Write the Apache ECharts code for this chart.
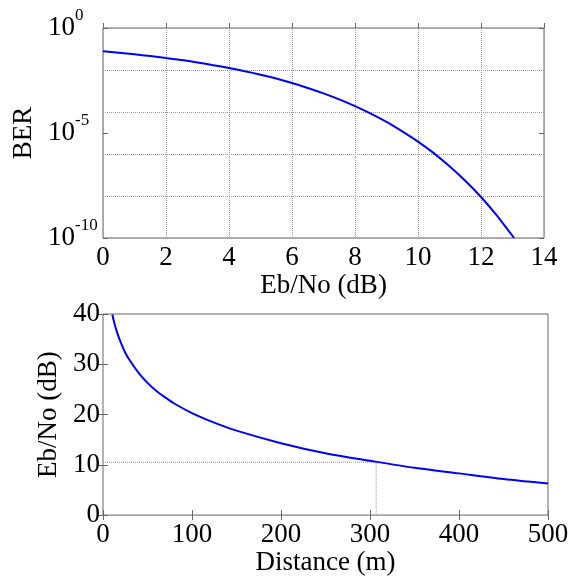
<!DOCTYPE html>
<html>
<head>
<meta charset="utf-8">
<script src="https://cdn.jsdelivr.net/npm/echarts@6/dist/echarts.min.js"></script>
<style>
html, body { margin: 0; padding: 0; background: #fff; }
#main { width: 580px; height: 577px; }
</style>
</head>
<body>
<div id="main"></div>
<script>
// top plot: BER vs Eb/No
var ebno = [0, 0.5, 1, 1.5, 2, 2.5, 3, 3.5, 4, 4.5, 5, 5.5, 6, 6.5, 7, 7.5, 8, 8.5, 9, 9.5, 10, 10.5, 11, 11.5, 12, 12.5, 13.05];
var ber = [0.079, 0.067, 0.056, 0.046, 0.037, 0.030, 0.023, 0.017, 0.0125, 0.0088, 0.0060, 0.0039, 0.0024, 0.0014,
  7.7e-4, 4.0e-4, 1.9e-4, 8.4e-5, 3.4e-5, 1.2e-5, 3.9e-6, 1.1e-6, 2.6e-7, 5.3e-8, 9.0e-9, 1.2e-9, 1.0e-10];

// bottom plot: Eb/No vs distance
var dist = [10.5, 12, 15, 20, 25, 30, 40, 50, 60, 70, 80, 100, 125, 150, 200, 250, 300, 350, 400, 450, 500];
var ebnoDist = [39.9, 38.7, 36.8, 34.3, 32.3, 30.8, 28.3, 26.3, 24.7, 23.4, 22.2, 20.3, 18.4, 16.8, 14.3, 12.3, 10.8, 9.4, 8.3, 7.2, 6.3];

// dotted guide at the operating point
var guideDist = [0, 307, 307];
var guideEbno = [10.5, 10.5, 0];

var font = 'Liberation Serif';
var boxColor = '#666';
var dotted = { color: '#999', type: [1, 1], width: 1 };

function pairs(xs, ys) {
  return xs.map(function (x, i) { return [x, ys[i]]; });
}

var chart = echarts.init(document.getElementById('main'));

var tickIn = { show: true, inside: true, length: 5, lineStyle: { color: boxColor } };
var labelStyle = { color: '#000', fontSize: 27, fontFamily: font };
var nameStyle = { color: '#000', fontSize: 27, fontFamily: font };

chart.setOption({
  animation: false,
  backgroundColor: '#fff',
  grid: [
    { left: 103, top: 28, width: 441, height: 210, show: true, borderColor: boxColor, borderWidth: 1, backgroundColor: 'transparent' },
    { left: 103, top: 314, width: 445, height: 204, show: true, borderColor: boxColor, borderWidth: 1, backgroundColor: 'transparent' }
  ],
  xAxis: [
    {
      gridIndex: 0, type: 'value', min: 0, max: 14, interval: 2,
      axisLine: { show: false }, axisTick: tickIn,
      axisLabel: Object.assign({ margin: 6 }, labelStyle),
      splitLine: { show: true, lineStyle: dotted },
      name: 'Eb/No (dB)', nameLocation: 'middle', nameGap: 34, nameTextStyle: nameStyle
    },
    {
      gridIndex: 1, type: 'value', min: 0, max: 500, interval: 100,
      axisLine: { show: false }, axisTick: tickIn,
      axisLabel: Object.assign({ margin: 6 }, labelStyle),
      splitLine: { show: false },
      name: 'Distance (m)', nameLocation: 'middle', nameGap: 32, nameTextStyle: nameStyle
    },
    {
      gridIndex: 1, type: 'value', min: 0, max: 500, interval: 100, position: 'top',
      axisLine: { show: false }, axisTick: tickIn, axisLabel: { show: false }, splitLine: { show: false }
    }
  ],
  yAxis: [
    { gridIndex: 0, type: 'log', logBase: 10, min: 1e-10, max: 1, show: false },
    {
      gridIndex: 0, type: 'value', min: -10, max: 0, interval: 2, position: 'left',
      axisLine: { show: false }, axisTick: { show: false }, axisLabel: { show: false },
      splitLine: { show: true, lineStyle: dotted }
    },
    {
      gridIndex: 0, type: 'value', min: -10, max: 0, interval: 5, position: 'left',
      axisLine: { show: false }, axisTick: tickIn, splitLine: { show: false },
      axisLabel: {
        margin: 55, align: 'left',
        formatter: function (v) { return '{b|10}{s|' + v + '}'; },
        rich: {
          b: { fontSize: 27, lineHeight: 42, fontFamily: font, color: '#000' },
          s: { fontSize: 17, lineHeight: 17, verticalAlign: 'top', fontFamily: font, color: '#000' }
        }
      },
      name: 'BER', nameLocation: 'middle', nameGap: 59, nameTextStyle: nameStyle
    },
    {
      gridIndex: 0, type: 'value', min: -10, max: 0, interval: 5, position: 'right',
      axisLine: { show: false }, axisTick: tickIn, axisLabel: { show: false }, splitLine: { show: false }
    },
    {
      gridIndex: 1, type: 'value', min: 0, max: 40, interval: 10, position: 'left',
      axisLine: { show: false }, axisTick: tickIn,
      axisLabel: Object.assign({ margin: 3 }, labelStyle),
      splitLine: { show: false },
      name: 'Eb/No (dB)', nameLocation: 'middle', nameGap: 33, nameTextStyle: nameStyle
    },
    {
      gridIndex: 1, type: 'value', min: 0, max: 40, interval: 10, position: 'right',
      axisLine: { show: false }, axisTick: tickIn, axisLabel: { show: false }, splitLine: { show: false }
    }
  ],
  series: [
    {
      type: 'line', xAxisIndex: 0, yAxisIndex: 0, data: pairs(ebno, ber),
      showSymbol: false, smooth: 0.2, lineStyle: { color: '#0000ff', width: 2 }
    },
    {
      type: 'line', xAxisIndex: 1, yAxisIndex: 4, data: pairs(guideDist, guideEbno),
      showSymbol: false, lineStyle: { color: '#999', type: [1, 1], width: 1 }
    },
    {
      type: 'line', xAxisIndex: 1, yAxisIndex: 4, data: pairs(dist, ebnoDist),
      showSymbol: false, smooth: 0.3, lineStyle: { color: '#0000ff', width: 2 }
    }
  ]
});
</script>
</body>
</html>
